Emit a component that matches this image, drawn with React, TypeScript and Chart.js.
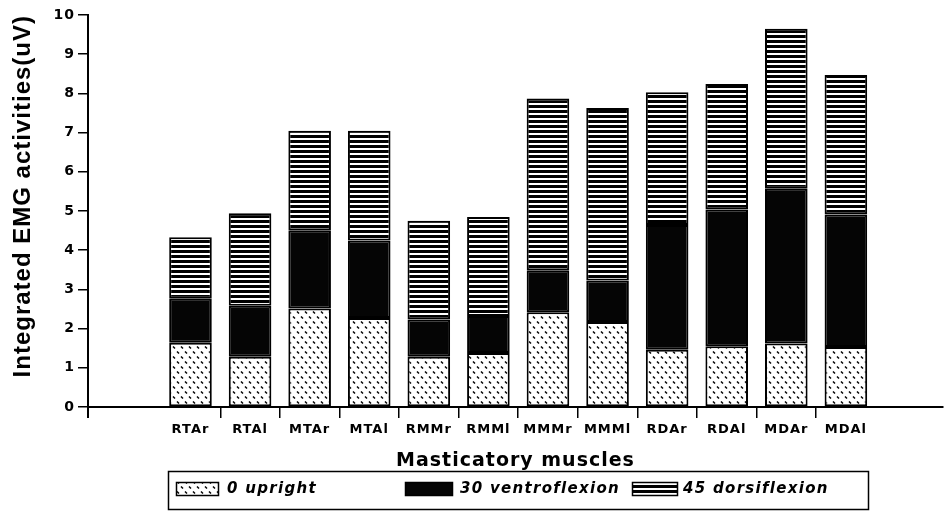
import React, { useEffect, useRef } from "react";
import { Chart, registerables } from "chart.js";

Chart.register(...registerables);

// ---- data ----
const categories = ["RTAr", "RTAl", "MTAr", "MTAl", "RMMr", "RMMl", "MMMr", "MMMl", "RDAr", "RDAl", "MDAr", "MDAl"];
const seriesNames = ["0 upright", "30 ventroflexion", "45 dorsiflexion"];
const upright = [1.64, 1.28, 2.51, 2.27, 1.28, 1.38, 2.42, 2.17, 1.46, 1.55, 1.62, 1.53];
const ventroflexion = [1.12, 1.3, 2.0, 1.98, 0.95, 0.94, 1.07, 1.06, 3.18, 3.49, 3.95, 3.38];
const dorsiflexion = [1.57, 2.36, 2.54, 2.8, 2.52, 2.53, 4.38, 4.4, 3.39, 3.2, 4.08, 3.56];
const yMin = 0;
const yMax = 10;
const yStep = 1;
const xTitle = "Masticatory muscles";
const yTitle = "Integrated EMG activities(uV)";

function makeUprightPattern(ctx: CanvasRenderingContext2D) {
  const c = document.createElement("canvas");
  c.width = 8;
  c.height = 10;
  const g = c.getContext("2d")!;
  g.fillStyle = "#ffffff";
  g.fillRect(0, 0, 8, 10);
  g.strokeStyle = "#000000";
  g.lineWidth = 1.5;
  g.lineCap = "butt";
  g.beginPath();
  g.moveTo(1, 1.5);
  g.lineTo(3, 3.5);
  g.moveTo(5, 6.5);
  g.lineTo(7, 8.5);
  g.stroke();
  return ctx.createPattern(c, "repeat")!;
}

function makeStripePattern(ctx: CanvasRenderingContext2D) {
  const c = document.createElement("canvas");
  c.width = 4;
  c.height = 5;
  const g = c.getContext("2d")!;
  g.fillStyle = "#ffffff";
  g.fillRect(0, 0, 4, 5);
  g.fillStyle = "#000000";
  g.fillRect(0, 0, 4, 3);
  return ctx.createPattern(c, "repeat")!;
}

const spacingPlugin = {
  id: "letterSpacing",
  beforeUpdate(chart: any) {
    chart.ctx.letterSpacing = "1px";
  },
  beforeDraw(chart: any) {
    chart.ctx.letterSpacing = "1px";
  },
};

const legendBoxPlugin = {
  id: "boxLegend",
  afterDraw(chart: any) {
    const ctx = chart.ctx as CanvasRenderingContext2D;
    const area = chart.chartArea;
    ctx.save();
    // y-axis line continues a little below the x axis
    ctx.strokeStyle = "#000";
    ctx.lineWidth = 2;
    ctx.beginPath();
    ctx.moveTo(area.left, area.bottom);
    ctx.lineTo(area.left, area.bottom + 11);
    ctx.stroke();

    // legend frame
    ctx.lineWidth = 1.5;
    ctx.strokeRect(168.5, 471.5, 700, 38);

    const items = [
      { sx: 176, sw: 42, tx: 227 },
      { sx: 405, sw: 47, tx: 460 },
      { sx: 632, sw: 45, tx: 683 },
    ];
    ctx.font = "italic bold 15px 'DejaVu Sans'";
    (ctx as any).letterSpacing = "1.3px";
    ctx.textBaseline = "middle";
    ctx.textAlign = "left";
    chart.data.datasets.forEach((ds: any, i: number) => {
      const it = items[i];
      ctx.fillStyle = ds.backgroundColor;
      ctx.fillRect(it.sx, 482, it.sw, 13);
      ctx.strokeStyle = "#000";
      ctx.lineWidth = 1.5;
      ctx.strokeRect(it.sx + 0.5, 482.5, it.sw, 13);
      ctx.fillStyle = "#000";
      ctx.fillText(ds.label, it.tx, 489);
    });
    ctx.restore();
  },
};

export default function App() {
  const ref = useRef<HTMLCanvasElement | null>(null);

  useEffect(() => {
    document.body.style.margin = "0";
    const canvas = ref.current!;
    const ctx = canvas.getContext("2d")!;
    const uprightFill = makeUprightPattern(ctx);
    const stripeFill = makeStripePattern(ctx);

    const toPoints = (arr: number[]) => arr.map((v, i) => ({ x: i + 1, y: v }));
    const common = {
      borderColor: "#000000",
      borderWidth: 2,
      borderSkipped: false,
      categoryPercentage: 1,
      barPercentage: 0.715,
    };

    const chart = new Chart(ctx, {
      type: "bar",
      data: {
        datasets: [
          { label: seriesNames[0], data: toPoints(upright), backgroundColor: uprightFill, ...common },
          { label: seriesNames[1], data: toPoints(ventroflexion), backgroundColor: "#050505", ...common },
          { label: seriesNames[2], data: toPoints(dorsiflexion), backgroundColor: stripeFill, ...common },
        ],
      } as any,
      options: {
        animation: false,
        responsive: false,
        devicePixelRatio: 1,
        layout: { padding: { top: 15, right: 2, left: 0, bottom: 0 } },
        plugins: {
          legend: { display: false },
          tooltip: { enabled: false },
        },
        scales: {
          x: {
            type: "linear",
            stacked: true,
            min: -0.72,
            max: 13.63,
            offset: false,
            afterBuildTicks: (s: any) => {
              s.ticks = categories.map((_, i) => ({ value: i + 1 }));
            },
            afterFit: (s: any) => {
              s.height = 105;
            },
            ticks: {
              autoSkip: false,
              maxRotation: 0,
              minRotation: 0,
              padding: 4,
              color: "#000",
              font: { family: "'DejaVu Sans'", weight: "bold", size: 13 },
              callback: (v: any) => categories[Math.round(v) - 1] ?? "",
            },
            grid: {
              offset: true,
              drawOnChartArea: false,
              drawTicks: true,
              tickLength: 11,
              lineWidth: 1.5,
              color: (c: any) => (c.index === undefined || c.index === 0 ? "rgba(0,0,0,0)" : "#000"),
            },
            border: { display: true, color: "#000", width: 2 },
            title: {
              display: true,
              text: xTitle,
              color: "#000",
              font: { family: "'DejaVu Sans'", weight: "bold", size: 19 },
              padding: { top: 0, bottom: 40 },
            },
          },
          y: {
            type: "linear",
            stacked: true,
            min: yMin,
            max: yMax,
            afterFit: (s: any) => {
              s.width = 88;
            },
            ticks: {
              stepSize: yStep,
              padding: 3,
              color: "#000",
              font: { family: "'DejaVu Sans'", weight: "bold", size: 14 },
            },
            grid: {
              drawOnChartArea: false,
              drawTicks: true,
              tickLength: 10,
              lineWidth: 1.5,
              color: "#000",
            },
            border: { display: true, color: "#000", width: 2 },
            title: {
              display: true,
              text: yTitle,
              align: "end",
              color: "#000",
              font: { family: "'Liberation Sans'", weight: "bold", size: 24 },
              padding: { top: 9, bottom: 0 },
            },
          },
        },
      } as any,
      plugins: [spacingPlugin, legendBoxPlugin],
    });
    return () => chart.destroy();
  }, []);

  return (
    <div style={{ width: 945, height: 512, background: "#fff" }}>
      <canvas ref={ref} width={945} height={512} style={{ display: "block", width: 945, height: 512 }} />
    </div>
  );
}
